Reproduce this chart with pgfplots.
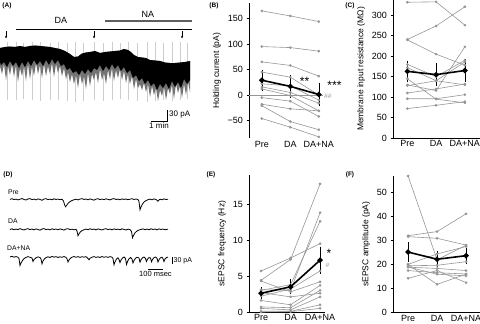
\documentclass[border=0pt]{standalone}
\usepackage{fontspec}
\setmainfont{Liberation Sans}
\usepackage{pgfplots}
\pgfplotsset{compat=1.18}
\usetikzlibrary{arrows.meta}
\definecolor{dat}{RGB}{150,150,150}
\definecolor{nabar}{RGB}{95,95,95}
\definecolor{noise}{RGB}{115,115,115}
\definecolor{spike}{RGB}{205,205,205}
\pgfplotsset{
  panel/.style={
    scale only axis, anchor=south west, clip=false,
    axis lines*=left,
    axis line style={-,line width=0.6pt},
    tick align=outside, major tick length=2.5pt,
    ytick style={line width=0.6pt,black},
    xtick={0,1,2}, xticklabels={Pre,DA,DA+NA},
    xtick style={draw=none},
    tick label style={font=\fontsize{9}{10}\selectfont},
    xticklabel style={inner sep=1pt, yshift=1pt},
    ylabel style={font=\fontsize{8.5}{10}\selectfont},
    /pgf/number format/assume math mode=true,
  },
  cell/.style={color=dat, line width=0.6pt, mark=*, mark size=1pt, mark options={fill=dat, draw=dat}},
  mean/.style={black, line width=1.6pt, mark=*, mark size=1.8pt,
     error bars/.cd, y dir=both, y explicit,
     error bar style={line width=0.6pt, black},
     error mark options={line width=0.6pt, black, mark size=2.5pt}},
}
\begin{document}
\begin{tikzpicture}
\path[use as bounding box] (0,0) rectangle (480pt,-324pt);

% ---------- traces (A) and (D), pixel coordinates ----------
\begin{axis}[at={(0pt,0pt)}, anchor=north west, x=1pt, y=1pt,
  xmin=0, xmax=480, ymin=0, ymax=324, y dir=reverse, hide axis, clip=false]
% stimulus spikes
\addplot[spike, line width=0.4pt, unbounded coords=jump] coordinates {
(7,42)(7,100)(7,nan) (16,42)(16,100)(16,nan) (23,43)(23,99)(23,nan)
(32,42)(32,100)(32,nan) (40,42)(40,101)(40,nan) (50,43)(50,100)(50,nan)
(58,42)(58,100)(58,nan) (67,43)(67,101)(67,nan) (75,42)(75,102)(75,nan)
(83,43)(83,101)(83,nan) (94,42)(94,100)(94,nan) (103,43)(103,101)(103,nan)
(112,42)(112,100)(112,nan) (120,43)(120,99)(120,nan) (128,42)(128,100)(128,nan)
(137,43)(137,101)(137,nan) (147,42)(147,102)(147,nan) (155,42)(155,101)(155,nan)
(163,43)(163,100)(163,nan) (172,42)(172,101)(172,nan) (180,42)(180,100)(180,nan)
(187,43)(187,99)};
% noise fringe
\addplot[fill=noise, draw=none] coordinates {
(0,48)(5,47)(10,46.5)(15,47)(20,46)(25,47)(30,46)(35,45.5)(40,46)(45,46.5)(50,47)(55,48)(60,49)(65,51)(70,54)(74,57)(78,56.5)(82,53.5)(86,52.5)(90,52)(95,51)(100,53)(105,52)(110,51.5)(115,51)(120,50.5)(124,49)(128,50)(131,52)(134,55)(138,57)(142,57.5)(146,58)(150,60)(155,60.5)(160,61)(165,62.5)(170,63)(175,63)(180,62.5)(185,62)(190,61)
(190,92)(188,82)(186,95)(184,84)(182,98)(180,86)(178,93)(176,84)(174,99)(172,85)(170,94)(168,88)(166,100)(164,87)(162,96)(160,90)(158,101)(156,88)(154,95)(152,86)(150,97)(148,84)(146,92)(144,83)(142,90)(140,84)(138,88)(136,79)(134,89)(132,76)(130,84)(128,74)(126,83)(124,71)(122,80)(120,69)(118,78)(116,70)(114,81)(112,68)(110,79)(108,70)(106,84)(104,73)(102,80)(100,69)(98,83)(96,72)(94,80)(92,74)(90,86)(88,73)(86,89)(84,76)(82,84)(80,74)(78,88)(76,75)(74,84)(72,74)(70,82)(68,72)(66,79)(64,68)(62,76)(60,66)(58,73)(56,64)(54,77)(52,63)(50,74)(48,66)(46,76)(44,64)(42,78)(40,65)(38,74)(36,63)(34,76)(32,66)(30,79)(28,64)(26,81)(24,66)(22,76)(20,68)(18,82)(16,65)(14,77)(12,64)(10,75)(8,66)(6,80)(4,64)(2,74)(0,66)} -- cycle;
% dense trace
\addplot[fill=black, draw=none] coordinates {
(0,48)(5,47)(10,46.5)(15,47)(20,46)(25,47)(30,46)(35,45.5)(40,46)(45,46.5)(50,47)(55,48)(60,49)(65,51)(70,54)(74,57)(78,56.5)(82,53.5)(86,52.5)(90,52)(95,51)(100,53)(105,52)(110,51.5)(115,51)(120,50.5)(124,49)(128,50)(131,52)(134,55)(138,57)(142,57.5)(146,58)(150,60)(155,60.5)(160,61)(165,62.5)(170,63)(175,63)(180,62.5)(185,62)(190,61)
(190,80)(187,84)(184,79)(181,88)(178,82)(175,87)(172,81)(169,89)(166,83)(163,88)(160,84)(157,90)(154,83)(151,86)(148,80)(145,84)(142,78)(139,81)(136,75)(133,78)(130,70)(127,73)(124,67)(121,71)(118,65)(115,69)(112,64)(109,70)(106,66)(103,71)(100,65)(97,70)(94,68)(91,73)(88,69)(85,74)(82,70)(79,75)(76,71)(73,73)(70,68)(67,70)(64,64)(61,66)(58,60)(55,64)(52,59)(49,65)(46,60)(43,66)(40,61)(37,65)(34,60)(31,66)(28,61)(25,67)(22,62)(19,68)(16,62)(13,66)(10,61)(7,67)(4,62)(1,65)(0,62)} -- cycle;
% (D) Pre
\addplot[black, line width=0.8pt] coordinates {
(10,199.4)(12,198.7)(14,199.6)(16,199.1)(18,199.9)(20,199.2)(22,198.5)(24,199.5)(26,200.0)(28,199.0)(30,198.6)(32,199.6)(34,199.1)(36,199.9)(38,198.9)(40,199.4)(42,200.3)(44,199.0)(46,198.7)(48,199.6)(50,199.1)(52,199.8)(54,198.8)(56,199.5)(58,199.0)(60,199.7)(62,199.2)(63.5,201.0)(64.5,204.5)(65.5,206.8)(66.5,205.6)(68,203.4)(70,201.6)(72,200.5)(74,199.8)(76,199.2)(78,199.9)(80,199.1)(82,198.6)(84,199.5)(86,199.0)(88,199.8)(90,198.9)(92,199.5)(94,200.2)(96,199.1)(98,198.7)(100,199.6)(102,199.0)(104,199.7)(106,198.8)(108,199.4)(110,199.9)(112,199.0)(114,198.6)(116,199.5)(118,199.1)(120,199.8)(122,198.9)(124,199.4)(126,199.0)(128,199.7)(130,199.2)(132,198.7)(134,199.5)(136,199.0)(138,199.6)(139,201.5)(140,209.8)(141,207.0)(142.5,204.0)(144,202.0)(146,200.6)(148,199.7)(150,199.1)(152,199.8)(154,198.9)(156,199.5)(158,201.2)(159,200.0)(160,199.2)(162,199.8)(164,198.9)(166,199.5)(168,199.2)};
% (D) DA
\addplot[black, line width=0.8pt] coordinates {
(10,229.5)(12,228.8)(14,229.8)(16,229.0)(18,229.7)(20,228.6)(22,229.4)(24,230.0)(26,229.1)(28,228.7)(30,229.6)(32,229.0)(34,229.9)(36,228.9)(38,229.5)(40,230.2)(42,229.0)(44,228.6)(46,229.7)(48,229.1)(50,229.9)(52,228.8)(54,229.5)(56,229.0)(58,229.8)(60,228.9)(62,229.4)(64,230.1)(66,229.0)(68,228.7)(70,229.6)(72,229.1)(74,229.8)(76,229.3)(77,231.0)(78,235.8)(79,233.8)(80.5,231.8)(82,230.6)(84,229.8)(86,229.1)(88,229.7)(90,228.8)(92,229.5)(94,229.0)(96,229.9)(98,228.9)(100,229.4)(102,230.0)(104,229.1)(106,228.7)(108,229.6)(110,229.0)(112,229.9)(114,228.9)(116,229.5)(118,229.1)(120,229.8)(122,228.8)(124,229.4)(126,230.0)(128,229.1)(130,229.6)(131.5,231.5)(132.5,237.8)(133.5,235.5)(135,232.8)(137,231.0)(139,230.0)(141,229.4)(143,228.9)(145,229.7)(147,229.0)(149,229.8)(151,228.8)(153,229.5)(155,229.0)(157,229.9)(159,228.9)(161,229.5)(163,229.0)(165,229.7)(168,229.2)};
% (D) DA+NA
\addplot[black, line width=0.8pt] coordinates {
(10,257.0)(12,256.3)(14,257.2)(16,256.5)(18,257.3)(19,258.5)(20,265.5)(21,263.0)(22.5,260.5)(24,258.6)(26,257.4)(28,256.6)(30,257.3)(32,258.0)(33,261.5)(34,259.5)(36,257.8)(38,256.9)(40,257.5)(41,259.0)(42,263.8)(43,261.0)(44.5,258.8)(46,257.6)(48,256.8)(50,257.5)(52,256.4)(54,257.2)(56,256.6)(58,257.5)(60,256.8)(62,257.3)(64,256.5)(66,257.4)(67,258.8)(68,262.0)(69,260.0)(70.5,258.2)(72,257.2)(74,256.5)(76,257.3)(78,256.6)(80,257.4)(82,256.7)(84,257.2)(86,256.6)(88,258.5)(89,259.8)(90,258.2)(92,257.2)(94,256.6)(96,257.4)(98,256.8)(100,257.5)(102,256.5)(104,257.3)(106,256.7)(108,257.4)(110,256.6)(112,257.2)(113,258.5)(114,264.8)(115,262.0)(116.5,259.0)(118,257.8)(119,259.5)(120,262.5)(121,260.0)(122.5,258.0)(124,257.0)(125.5,258.5)(126.5,264.5)(127.5,261.5)(129,258.8)(130.5,257.5)(132,259.0)(133,263.0)(134,260.5)(135.5,258.3)(137,257.2)(139,258.0)(140,262.2)(141,259.8)(142.5,257.8)(144,257.0)(145.5,258.5)(146.5,261.5)(147.5,259.2)(149,257.5)(150.5,258.0)(151.5,261.8)(152.5,259.5)(154,257.6)(155.5,257.0)(157,258.2)(158,262.0)(159,259.6)(160.5,257.8)(162,257.2)(163,258.6)(164,261.5)(165,259.0)(166.5,257.5)(168,257.0)};

% annotations of (A)
\draw[black, line width=0.6pt] (axis cs:16,29) -- (axis cs:192,29);
\draw[nabar, line width=1.5pt] (axis cs:105,21) -- (axis cs:192,21);
\node[font=\fontsize{9}{10}\selectfont] at (axis cs:61,20) {DA};
\node[font=\fontsize{9}{10}\selectfont] at (axis cs:148,14) {NA};
\draw[line width=0.5pt, -{Stealth[length=2.5pt,width=2.2pt]}] (axis cs:6,31) -- (axis cs:6,38.5);
\draw[line width=0.5pt, -{Stealth[length=2.5pt,width=2.2pt]}] (axis cs:94,31) -- (axis cs:94,38.5);
\draw[line width=0.5pt, -{Stealth[length=2.5pt,width=2.2pt]}] (axis cs:182,31) -- (axis cs:182,38.5);
\draw[line width=0.6pt] (axis cs:167,110) -- (axis cs:167,121) -- (axis cs:151,121);
\node[font=\fontsize{8}{9}\selectfont, anchor=west, inner sep=1pt] at (axis cs:168,115) {30 pA};
\node[font=\fontsize{8}{9}\selectfont, anchor=north, inner sep=1pt] at (axis cs:159,121.5) {1 min};
% annotations of (D)
\node[font=\fontsize{6.8}{8}\selectfont, anchor=west, inner sep=0pt] at (axis cs:8,192) {Pre};
\node[font=\fontsize{6.8}{8}\selectfont, anchor=west, inner sep=0pt] at (axis cs:8,221) {DA};
\node[font=\fontsize{6.8}{8}\selectfont, anchor=west, inner sep=0pt] at (axis cs:7,248) {DA+NA};
\draw[line width=0.6pt] (axis cs:172,257) -- (axis cs:172,264);
\node[font=\fontsize{7}{8}\selectfont, anchor=west, inner sep=1pt] at (axis cs:172.5,260.5) {30 pA};
\draw[line width=0.6pt] (axis cs:148,269) -- (axis cs:163,269);
\node[font=\fontsize{7.5}{8}\selectfont, anchor=north, inner sep=1pt] at (axis cs:155.5,270) {100 msec};
% panel letters
\node[font=\bfseries\fontsize{6.5}{7}\selectfont] at (axis cs:7,5.5) {(A)};
\node[font=\bfseries\fontsize{6.5}{7}\selectfont] at (axis cs:214,5.5) {(B)};
\node[font=\bfseries\fontsize{6.5}{7}\selectfont] at (axis cs:350,6) {(C)};
\node[font=\bfseries\fontsize{6.5}{7}\selectfont] at (axis cs:8,174.5) {(D)};
\node[font=\bfseries\fontsize{6.5}{7}\selectfont] at (axis cs:211,174.5) {(E)};
\node[font=\bfseries\fontsize{6.5}{7}\selectfont] at (axis cs:350,174.5) {(F)};
\end{axis}

% ---------- (B) holding current ----------
\begin{axis}[panel, at={(249pt,-138.4pt)}, width=74.1pt, height=135.2pt,
  xmin=-0.45, xmax=2.15, ymin=-85, ymax=180,
  x axis line style={draw=none},
  ytick={-50,0,50,100,150}, yticklabels={−50,0,50,100,150},
  ylabel={Holding current (pA)}]
\addplot[dat, line width=0.6pt] coordinates {(-0.45,0) (2.15,0)};
\addplot[cell] coordinates {(0,165)(1,155)(2,144)};
\addplot[cell] coordinates {(0,95)(1,93)(2,86)};
\addplot[cell] coordinates {(0,65)(1,58)(2,37)};
\addplot[cell] coordinates {(0,45)(1,35)(2,0)};
\addplot[cell] coordinates {(0,22)(1,18)(2,-10)};
\addplot[cell] coordinates {(0,16)(1,5)(2,-16)};
\addplot[cell] coordinates {(0,12)(1,-1)(2,-31)};
\addplot[cell] coordinates {(0,-5)(1,-12)(2,-42)};
\addplot[cell] coordinates {(0,-18)(1,-27)(2,-31)};
\addplot[cell] coordinates {(0,-21)(1,-52)(2,-68)};
\addplot[cell] coordinates {(0,-46)(1,-63)(2,-82)};
\addplot[mean] coordinates {(0,29) +- (0,16) (1,17) +- (0,17) (2,1) +- (0,18)};
\node[font=\fontsize{12}{12}\selectfont, inner sep=0pt] at (axis cs:1.5,26) {**};
\node[font=\fontsize{12}{12}\selectfont, inner sep=0pt] at (axis cs:2.55,19) {***};
\node[font=\itshape\fontsize{6.5}{7}\selectfont, text=dat, anchor=west, inner sep=0pt] at (axis cs:2.18,-2) {\#\#};
\end{axis}

% ---------- (C) input resistance ----------
\begin{axis}[panel, at={(393pt,-138pt)}, width=86.8pt, height=138.2pt,
  xmin=-0.5, xmax=2.52, ymin=0, ymax=338,
  ytick={0,50,...,300},
  ylabel={Membrane input resistance (MΩ)}]
\addplot[cell] coordinates {(0,332)(1,333)(2,276)};
\addplot[cell] coordinates {(0,241)(1,274)(2,321)};
\addplot[cell] coordinates {(0,240)(1,205)(2,178)};
\addplot[cell] coordinates {(0,180)(1,150)(2,190)};
\addplot[cell] coordinates {(0,172)(1,140)(2,186)};
\addplot[cell] coordinates {(0,145)(1,95)(2,86)};
\addplot[cell] coordinates {(0,130)(1,116)(2,223)};
\addplot[cell] coordinates {(0,128)(1,140)(2,130)};
\addplot[cell] coordinates {(0,110)(1,120)(2,132)};
\addplot[cell] coordinates {(0,96)(1,96)(2,106)};
\addplot[cell] coordinates {(0,72)(1,80)(2,89)};
\addplot[mean] coordinates {(0,163) +- (0,20) (1,155) +- (0,22) (2,165) +- (0,22)};
\end{axis}

% ---------- (E) sEPSC frequency ----------
\begin{axis}[panel, at={(249pt,-312pt)}, width=75.5pt, height=136.8pt,
  xmin=-0.41, xmax=2.15, ymin=0, ymax=19,
  ytick={0,5,10,15},
  ylabel={sEPSC frequency (Hz)}]
\addplot[cell] coordinates {(0,5.7)(1,7.5)(2,9.5)};
\addplot[cell] coordinates {(0,4.4)(1,7.3)(2,17.8)};
\addplot[cell] coordinates {(0,3.1)(1,3.0)(2,13.8)};
\addplot[cell] coordinates {(0,3.0)(1,3.8)(2,12.6)};
\addplot[cell] coordinates {(0,2.2)(1,3.2)(2,5.7)};
\addplot[cell] coordinates {(0,4.3)(1,2.8)(2,4.2)};
\addplot[cell] coordinates {(0,1.6)(1,1.0)(2,3.7)};
\addplot[cell] coordinates {(0,0.7)(1,0.6)(2,3.0)};
\addplot[cell] coordinates {(0,0.5)(1,0.3)(2,2.1)};
\addplot[cell] coordinates {(0,0.1)(1,0.1)(2,1.0)};
\addplot[cell] coordinates {(0,0.0)(1,0.05)(2,0.5)};
\addplot[cell] coordinates {(0,2.7)(1,2.1)(2,2.6)};
\addplot[mean] coordinates {(0,2.6) +- (0,0.5) (1,3.5) +- (0,0.7) (2,7.2) +- (0,1.55)};
\node[font=\fontsize{12}{12}\selectfont, inner sep=0pt] at (axis cs:2.3,8.1) {*};
\node[font=\itshape\fontsize{6.5}{7}\selectfont, text=dat, inner sep=0pt] at (axis cs:2.25,6.5) {\#};
\end{axis}

% ---------- (F) sEPSC amplitude ----------
\begin{axis}[panel, at={(393pt,-312.7pt)}, width=87pt, height=137.2pt,
  xmin=-0.52, xmax=2.48, ymin=0, ymax=57,
  ytick={0,10,...,50},
  ylabel={sEPSC amplitude (pA)}]
\addplot[cell] coordinates {(0,56.8)(1,22)(2,28)};
\addplot[cell] coordinates {(0,32.0)(1,33.7)(2,41.1)};
\addplot[cell] coordinates {(0,31.6)(1,30.9)(2,28.1)};
\addplot[cell] coordinates {(0,20.1)(1,24.4)(2,27.5)};
\addplot[cell] coordinates {(0,19.5)(1,19.7)(2,21.2)};
\addplot[cell] coordinates {(0,18.9)(1,18.4)(2,17.5)};
\addplot[cell] coordinates {(0,17.5)(1,16.6)(2,16.1)};
\addplot[cell] coordinates {(0,14.3)(1,17.5)(2,12.5)};
\addplot[cell] coordinates {(0,20.0)(1,11.8)(2,16.0)};
\addplot[cell] coordinates {(0,19.0)(1,16.0)(2,15.3)};
\addplot[mean] coordinates {(0,25.2) +- (0,3.0) (1,22.2) +- (0,2.3) (2,23.7) +- (0,2.3)};
\end{axis}
\end{tikzpicture}
\end{document}
